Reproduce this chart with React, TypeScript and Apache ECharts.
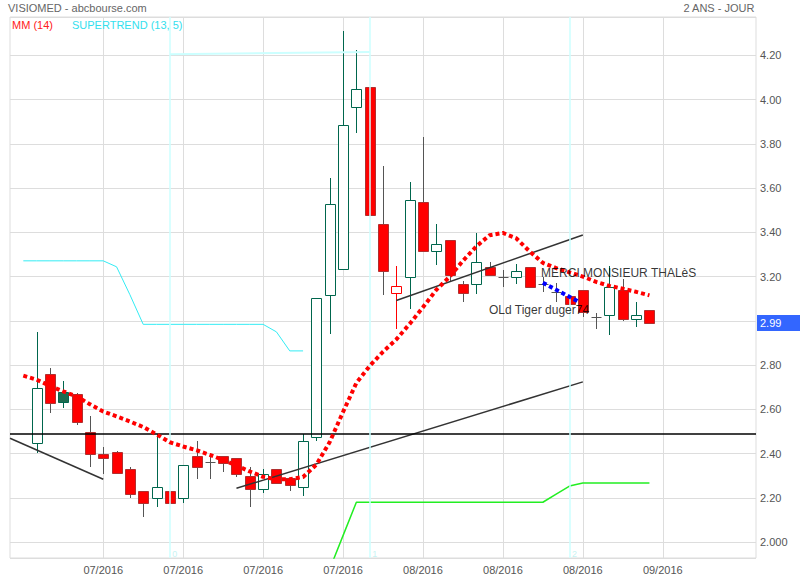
import React, { useEffect, useRef } from 'react';
import * as echarts from 'echarts';

// ---- Data ----
const candleOpen = [2.447, 2.760, 2.677, 2.670, 2.496, 2.398, 2.406, 2.329, 2.229, 2.198, 2.229, 2.198, 2.389, 2.363, 2.389, 2.379, 2.299, 2.238, 2.329, 2.288, 2.248, 2.475, 3.116, 3.236, 3.967, 4.057, 3.439, 3.125, 3.198, 3.537, 3.317, 3.367, 3.167, 3.166, 3.243, 3.200, 3.198, 3.241, 3.167, 3.130, 3.110, 3.139, 3.017, 3.024, 3.140, 3.009, 3.050];
const candleClose = [2.695, 2.628, 2.635, 2.544, 2.397, 2.379, 2.311, 2.216, 2.175, 2.248, 2.175, 2.347, 2.338, 2.363, 2.356, 2.306, 2.238, 2.306, 2.265, 2.257, 2.456, 3.105, 3.528, 3.885, 4.048, 3.476, 3.223, 3.157, 3.546, 3.317, 3.347, 3.205, 3.125, 3.266, 3.205, 3.200, 3.223, 3.155, 3.167, 3.130, 3.076, 3.042, 3.017, 3.155, 3.009, 3.026, 2.990];
const candleHigh = [2.950, 2.786, 2.729, 2.672, 2.570, 2.431, 2.410, 2.341, 2.229, 2.487, 2.229, 2.347, 2.457, 2.389, 2.389, 2.379, 2.338, 2.329, 2.329, 2.288, 2.487, 3.105, 3.646, 4.308, 4.225, 4.057, 3.698, 3.249, 3.629, 3.829, 3.439, 3.367, 3.178, 3.397, 3.266, 3.231, 3.257, 3.241, 3.200, 3.171, 3.110, 3.139, 3.035, 3.246, 3.190, 3.085, 3.050];
const candleLow = [2.401, 2.582, 2.608, 2.529, 2.341, 2.308, 2.308, 2.200, 2.112, 2.160, 2.175, 2.178, 2.284, 2.284, 2.318, 2.293, 2.160, 2.220, 2.261, 2.232, 2.210, 2.458, 2.940, 3.442, 3.849, 3.476, 3.118, 2.962, 3.053, 3.310, 3.250, 3.182, 3.087, 3.121, 3.205, 3.151, 3.167, 3.155, 3.128, 3.087, 3.076, 3.019, 2.964, 2.937, 3.001, 2.971, 2.985];

const maStart = -1;
const maValues = [2.752, 2.734, 2.706, 2.681, 2.658, 2.623, 2.590, 2.568, 2.545, 2.520, 2.487, 2.451, 2.432, 2.415, 2.394, 2.371, 2.346, 2.319, 2.295, 2.284, 2.284, 2.294, 2.350, 2.452, 2.588, 2.719, 2.796, 2.860, 2.916, 2.986, 3.061, 3.140, 3.199, 3.271, 3.336, 3.387, 3.397, 3.373, 3.314, 3.262, 3.238, 3.219, 3.200, 3.176, 3.158, 3.145, 3.131, 3.115];

const stUpStart = -1;
const stUpValues = [3.271, 3.271, 3.271, 3.271, 3.271, 3.271, 3.271, 3.244, 3.118, 2.984, 2.984, 2.984, 2.984, 2.984, 2.984, 2.984, 2.984, 2.984, 2.984, 2.950, 2.864, 2.864];

const stDownStart = 22;
const stDownValues = [1.878, 2.029, 2.180, 2.180, 2.180, 2.180, 2.180, 2.180, 2.180, 2.180, 2.180, 2.180, 2.180, 2.180, 2.180, 2.180, 2.180, 2.217, 2.253, 2.267, 2.267, 2.267, 2.267, 2.267, 2.267];

const topCyanLine = [[10, 4.205], [25, 4.215]];
const trendLine1 = [[-2, 2.469], [5, 2.284]];
const trendLine2 = [[15, 2.243], [41, 2.724]];
const trendLine3 = [[27, 3.092], [41, 3.388]];
const blueLine = [[38, 3.172], [40.7, 3.086]];

const xTickIndex = [5, 11, 17, 23, 29, 35, 41, 47];
const xTickLabels = ['07/2016', '07/2016', '07/2016', '07/2016', '08/2016', '08/2016', '08/2016', '09/2016'];
const separatorIndex = [10, 25, 40];
const separatorLabels = ['0', '1', '2'];
const separatorLabelY = 1.947;

const refLevel = 2.487;
const lastPrice = 2.99;

const annotationTexts = ['MERCI MONSIEUR THALèS', 'OLd Tiger duger74'];
const annotationX = [37.83, 33.92];
const annotationY = [3.217, 3.05];

const xMin = -2;
const xMax = 54;
const yMin = 1.928;
const yMax = 4.373;

const FONT = 'Liberation Sans, Arial, sans-serif';

const GREEN = '#00664d';
const GREEN_FILL = '#1d6b50';
const RED = '#ff0000';
const RED_EDGE = '#b03030';
const GRAY = '#555555';

function toPairs(start: number, vals: number[]) {
  return vals.map((v, k) => [start + k, v]);
}

export default function App() {
  const ref = useRef<HTMLDivElement>(null);

  useEffect(() => {
    if (!ref.current) return;
    const chart = echarts.init(ref.current, undefined, { renderer: 'svg' });

    // kind: 0 hollow green, 1 filled red, 2 filled green, 3 hollow red, 4 doji
    const candleData = candleOpen.map((o, i) => {
      const c = candleClose[i];
      const prev = i > 0 ? candleClose[i - 1] : o;
      let kind = 0;
      if (o === c) kind = 4;
      else if (c > o) kind = c >= prev ? 0 : 3;
      else kind = c > prev ? 2 : 1;
      return [i, o, c, candleLow[i], candleHigh[i], kind];
    });

    const categories = Array.from({ length: xMax - xMin + 1 }, (_, k) => String(k + xMin));
    const isTick = (_idx: number, value: any) => xTickIndex.indexOf(Number(value)) >= 0;

    const option: any = {
      animation: false,
      backgroundColor: '#ffffff',
      textStyle: { fontFamily: FONT },
      grid: {
        left: 10,
        right: 44,
        top: 17,
        bottom: 22,
        show: true,
        borderColor: '#dddddd',
        borderWidth: 1,
        backgroundColor: '#ffffff',
        containLabel: false,
      },
      xAxis: [
        { type: 'value', min: xMin, max: xMax, show: false },
        {
          type: 'category',
          data: categories,
          boundaryGap: false,
          position: 'bottom',
          axisLine: { show: false },
          axisTick: { show: false },
          splitLine: { show: true, interval: isTick, lineStyle: { color: '#dddddd', width: 1 } },
          axisLabel: {
            interval: isTick,
            margin: 6,
            color: '#555555',
            fontSize: 11,
            fontFamily: FONT,
            formatter: (value: string) => {
              const p = xTickIndex.indexOf(Number(value));
              return p >= 0 ? xTickLabels[p] : '';
            },
          },
        },
      ],
      yAxis: {
        type: 'value',
        position: 'right',
        min: yMin,
        max: yMax,
        splitNumber: 12,
        axisLine: { show: false },
        axisTick: { show: false },
        splitLine: { show: true, lineStyle: { color: '#dddddd', width: 1 } },
        axisLabel: {
          margin: 4,
          color: '#555555',
          fontSize: 11,
          fontFamily: FONT,
          showMinLabel: false,
          showMaxLabel: false,
          formatter: (v: number) => (Math.abs(v - 2) < 1e-9 ? '2.000' : v.toFixed(2)),
        },
      },
      graphic: [
        { type: 'text', left: 8, top: 2, style: { text: 'VISIOMED - abcbourse.com', fill: '#666666', font: `11px ${FONT}` } },
        { type: 'text', right: 45, top: 2, style: { text: '2 ANS - JOUR', fill: '#666666', font: `11px ${FONT}` } },
        { type: 'text', left: 12, top: 19, z: 10, style: { text: 'MM (14)', fill: '#ff2020', font: `11px ${FONT}` } },
        { type: 'text', left: 72, top: 19, z: 10, style: { text: 'SUPERTREND (13, 5)', fill: '#33e0ee', font: `11px ${FONT}` } },
      ],
      series: [
        {
          type: 'custom',
          name: 'candles',
          xAxisIndex: 0,
          yAxisIndex: 0,
          z: 2,
          clip: true,
          encode: { x: 0, y: [1, 2, 3, 4] },
          data: candleData,
          renderItem: (params: any, api: any) => {
            const i = api.value(0);
            const o = api.value(1);
            const c = api.value(2);
            const l = api.value(3);
            const h = api.value(4);
            const kind = api.value(5);
            const pO = api.coord([i, o]);
            const yc = api.coord([i, c])[1];
            const yl = api.coord([i, l])[1];
            const yh = api.coord([i, h])[1];
            const cx = Math.round(pO[0]) + 0.5;
            const top = Math.round(Math.min(pO[1], yc)) + 0.5;
            const bot = Math.round(Math.max(pO[1], yc)) + 0.5;
            let stroke = GREEN, fill = '#ffffff', wick = GREEN;
            if (kind === 1) { stroke = RED_EDGE; fill = RED; wick = GRAY; }
            else if (kind === 2) { stroke = GREEN; fill = GREEN_FILL; wick = GREEN; }
            else if (kind === 3) { stroke = RED; fill = '#ffffff'; wick = RED; }
            else if (kind === 4) { stroke = GRAY; wick = GRAY; }
            const children: any[] = [
              { type: 'line', shape: { x1: cx, y1: Math.round(yh), x2: cx, y2: Math.round(yl) }, style: { stroke: wick, lineWidth: 1 } },
            ];
            if (kind === 4) {
              children.push({ type: 'line', shape: { x1: cx - 5, y1: top, x2: cx + 5, y2: top }, style: { stroke: GRAY, lineWidth: 1 } });
            } else {
              children.push({
                type: 'rect',
                shape: { x: cx - 5, y: top, width: 10, height: Math.max(bot - top, 1) },
                style: { fill, stroke, lineWidth: 1 },
              });
            }
            return { type: 'group', children };
          },
        },
        {
          type: 'line',
          name: 'supertrend-up',
          xAxisIndex: 0,
          data: toPairs(stUpStart, stUpValues),
          symbol: 'none',
          z: 3,
          lineStyle: { color: '#33ecf4', width: 1 },
        },
        {
          type: 'line',
          name: 'supertrend-down',
          xAxisIndex: 0,
          data: toPairs(stDownStart, stDownValues),
          symbol: 'none',
          z: 3,
          lineStyle: { color: '#22ee22', width: 1.5 },
        },
        {
          type: 'line',
          name: 'top-cyan',
          xAxisIndex: 0,
          data: topCyanLine,
          symbol: 'none',
          z: 3,
          lineStyle: { color: '#ccffff', width: 2 },
        },
        ...[trendLine1, trendLine2, trendLine3].map((d) => ({
          type: 'line',
          xAxisIndex: 0,
          data: d,
          symbol: 'none',
          z: 4,
          lineStyle: { color: '#333333', width: 1.5 },
        })),
        {
          type: 'line',
          name: 'MM (14)',
          xAxisIndex: 0,
          data: toPairs(maStart, maValues),
          symbol: 'none',
          z: 6,
          lineStyle: { color: '#ff0000', width: 4, type: [4, 3] },
          markLine: {
            silent: true,
            symbol: 'none',
            animation: false,
            data: [
              { yAxis: refLevel, lineStyle: { color: '#000000', width: 1.5, type: 'solid' }, label: { show: false } },
              ...separatorIndex.map((v) => ({ xAxis: v, lineStyle: { color: '#ccffff', width: 1.5, type: 'solid' }, label: { show: false } })),
            ],
          },
        },
        {
          type: 'line',
          name: 'last-price',
          xAxisIndex: 0,
          data: [],
          symbol: 'none',
          z: 9,
          markLine: {
            silent: true,
            symbol: 'none',
            animation: false,
            data: [
              {
                yAxis: lastPrice,
                lineStyle: { color: 'rgba(255,255,255,0)', width: 1, type: 'solid' },
                label: {
                  show: true,
                  position: 'end',
                  distance: 1,
                  formatter: lastPrice.toFixed(2),
                  backgroundColor: '#3366ff',
                  color: '#ffffff',
                  fontSize: 11,
                  fontFamily: FONT,
                  lineHeight: 12,
                  padding: [3, 4, 1, 3],
                  width: 37,
                  align: 'left',
                },
              },
            ],
          },
        },
        {
          type: 'line',
          name: 'blue',
          xAxisIndex: 0,
          data: blueLine,
          symbol: 'none',
          z: 7,
          lineStyle: { color: '#0000ff', width: 4, type: [4, 3] },
        },
        {
          type: 'scatter',
          name: 'annotations',
          xAxisIndex: 0,
          symbolSize: 1,
          itemStyle: { color: 'rgba(0,0,0,0)' },
          z: 8,
          data: annotationTexts.map((t, k) => ({ name: t, value: [annotationX[k], annotationY[k]] })),
          label: {
            show: true,
            position: 'right',
            distance: 0,
            formatter: (p: any) => p.name,
            color: '#000000',
            fontSize: 12,
            fontFamily: FONT,
          },
        },
        {
          type: 'scatter',
          name: 'separator-labels',
          xAxisIndex: 0,
          symbolSize: 1,
          itemStyle: { color: 'rgba(0,0,0,0)' },
          z: 8,
          data: separatorLabels.map((t, k) => ({ name: t, value: [separatorIndex[k], separatorLabelY] })),
          label: {
            show: true,
            position: 'right',
            distance: 2,
            formatter: (p: any) => p.name,
            color: '#b8f0f0',
            fontSize: 9,
            fontFamily: FONT,
          },
        },
      ],
    };

    chart.setOption(option);
    return () => chart.dispose();
  }, []);

  return <div ref={ref} style={{ position: 'fixed', left: 0, top: 0, width: 800, height: 580 }} />;
}
